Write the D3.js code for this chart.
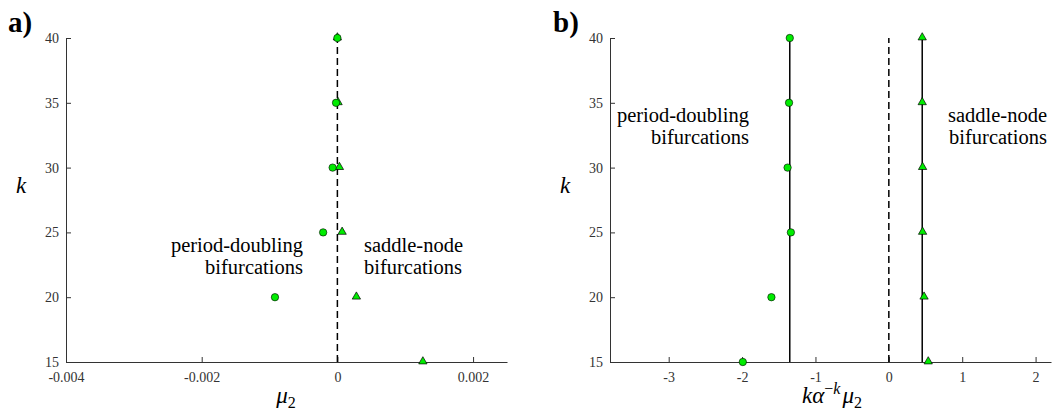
<!DOCTYPE html>
<html>
<head>
<meta charset="utf-8">
<script src="https://cdn.jsdelivr.net/npm/d3@7"></script>
<style>
  body { margin: 0; background: #fff; }
  svg { display: block; }
  .serif { font-family: 'Liberation Serif', 'Times New Roman', 'DejaVu Serif', serif; }
  .tick text { font-family: 'Liberation Serif', 'Times New Roman', 'DejaVu Serif', serif; font-size: 14px; fill: #333; }
  .axis path, .axis line { stroke: #333; }
</style>
</head>
<body>
<div id="chart-area"></div>
<script>
// data
var kValues = [15, 20, 25, 30, 35, 40]

// panel a: mu2 at the bifurcations (null = off the axes)
var pdMu = [null, -0.00092, -0.00021, -0.00007, -0.00002, 0.0000]
var snMu = [0.00126, 0.00028, 0.00007, 0.00003, 0.00001, 0.0000]
var limitMu = 0.0

// panel b: scaled k*alpha^-k*mu2
var pdScaled = [-1.99, -1.60, -1.335, -1.38, -1.36, -1.35]
var snScaled = [0.537, 0.48, 0.46, 0.46, 0.455, 0.455]
var pdLimit = -1.35
var snLimit = 0.455
var zeroLine = 0

var yTicks = [15, 20, 25, 30, 35, 40]
var xTicksA = [-0.004, -0.002, 0, 0.002]
var xTickLabelsA = ["-0.004", "-0.002", "0", "0.002"]
var xTicksB = [-3, -2, -1, 0, 1, 2]
var xTickLabelsB = ["-3", "-2", "-1", "0", "1", "2"]

var cw = 1057
var ch = 413
var green = "#00ec00"

var svg = d3.select("#chart-area").append("svg")
    .attr("width", cw)
    .attr("height", ch)

svg.append("rect").attr("width", cw).attr("height", ch).attr("fill", "#fff")

var y = d3.scaleLinear().domain([15, 40]).range([362, 38])

function drawPanel(opt) {
    var x = d3.scaleLinear().domain(opt.domain).range([opt.left, opt.right])
    var g = svg.append("g")

    // axes (matlab style, ticks pointing in)
    g.append("g")
        .attr("class", "axis")
        .attr("transform", "translate(0," + y.range()[0] + ")")
        .call(d3.axisBottom(x)
            .tickValues(opt.ticks)
            .tickFormat((d, i) => opt.tickLabels[i])
            .tickSize(-5)
            .tickSizeOuter(0)
            .tickPadding(10))

    g.append("g")
        .attr("class", "axis")
        .attr("transform", "translate(" + opt.left + ",0)")
        .call(d3.axisLeft(y)
            .tickValues(yTicks)
            .tickSize(-5)
            .tickSizeOuter(0)
            .tickPadding(7))

    g.selectAll(".axis").attr("font-family", null)

    // dashed zero / limit line
    g.append("line")
        .attr("x1", x(opt.dashed)).attr("x2", x(opt.dashed))
        .attr("y1", y(15)).attr("y2", y(40))
        .attr("stroke", "#000")
        .attr("stroke-width", 1.5)
        .attr("stroke-dasharray", "7,4")

    // solid limit lines
    opt.solid.forEach(v => {
        g.append("line")
            .attr("x1", x(v)).attr("x2", x(v))
            .attr("y1", y(15)).attr("y2", y(40))
            .attr("stroke", "#000")
            .attr("stroke-width", 1.5)
    })

    var sn = kValues.map((k, i) => ({k: k, v: opt.sn[i]})).filter(d => d.v !== null)
    var pd = kValues.map((k, i) => ({k: k, v: opt.pd[i]})).filter(d => d.v !== null)

    g.selectAll(".tri")
        .data(sn)
        .enter()
        .append("path")
        .attr("class", "tri")
        .attr("d", d3.symbol(d3.symbolTriangle, 30))
        .attr("transform", d => "translate(" + x(d.v) + "," + (y(d.k) - 0.5) + ")")
        .attr("fill", green)
        .attr("stroke", "#000")
        .attr("stroke-width", 0.7)

    g.selectAll(".dot")
        .data(pd)
        .enter()
        .append("circle")
        .attr("class", "dot")
        .attr("cx", d => x(d.v))
        .attr("cy", d => y(d.k))
        .attr("r", 3.7)
        .attr("fill", green)
        .attr("stroke", "#000")
        .attr("stroke-width", 0.6)

    // annotations
    var ann = g.append("g")
        .attr("class", "serif")
        .attr("font-size", "20.5px")
        .attr("fill", "#000")
    ann.append("text")
        .attr("x", opt.pdText[0]).attr("y", opt.pdText[1])
        .attr("text-anchor", "end")
        .text("period-doubling")
    ann.append("text")
        .attr("x", opt.pdText[0]).attr("y", opt.pdText[1] + 22)
        .attr("text-anchor", "end")
        .text("bifurcations")
    ann.append("text")
        .attr("x", opt.snText[0]).attr("y", opt.snText[1])
        .attr("text-anchor", opt.snAnchor)
        .text("saddle-node")
    ann.append("text")
        .attr("x", opt.snText[0]).attr("y", opt.snText[1] + 22)
        .attr("text-anchor", opt.snAnchor)
        .text("bifurcations")

    // panel letter
    g.append("text")
        .attr("class", "serif")
        .attr("x", opt.letterX).attr("y", 32)
        .attr("font-weight", "bold")
        .attr("font-size", "29px")
        .text(opt.letter)

    // y label
    g.append("text")
        .attr("class", "serif")
        .attr("x", opt.left - 45).attr("y", 193)
        .attr("text-anchor", "middle")
        .attr("font-style", "italic")
        .attr("font-size", "23px")
        .text("k")

    // x label
    var xl = g.append("text")
        .attr("class", "serif")
        .attr("x", opt.xlabelX).attr("y", 403)
        .attr("text-anchor", "middle")
        .attr("font-size", "23px")
    opt.xlabel(xl)
}

drawPanel({
    left: 66, right: 507,
    domain: [-0.004, 0.0025],
    ticks: xTicksA, tickLabels: xTickLabelsA,
    pd: pdMu, sn: snMu,
    dashed: limitMu, solid: [],
    pdText: [303, 252], snText: [364, 252], snAnchor: "start",
    letter: "a)", letterX: 8,
    xlabelX: 286,
    xlabel: t => {
        t.append("tspan").attr("font-style", "italic").text("μ")
        t.append("tspan").attr("font-size", "16px").attr("dy", 5).text("2")
    }
})

drawPanel({
    left: 610, right: 1051,
    domain: [-3.8, 2.21],
    ticks: xTicksB, tickLabels: xTickLabelsB,
    pd: pdScaled, sn: snScaled,
    dashed: zeroLine, solid: [pdLimit, snLimit],
    pdText: [749, 122], snText: [1047, 122], snAnchor: "end",
    letter: "b)", letterX: 553,
    xlabelX: 832,
    xlabel: t => {
        t.append("tspan").attr("font-style", "italic").text("kα")
        t.append("tspan").attr("font-size", "16px").attr("dy", -9).text("−")
        t.append("tspan").attr("font-size", "16px").attr("font-style", "italic").text("k")
        t.append("tspan").attr("font-style", "italic").attr("dy", 9).attr("dx", 2).text("μ")
        t.append("tspan").attr("font-size", "16px").attr("dy", 5).text("2")
    }
})
</script>
</body>
</html>
